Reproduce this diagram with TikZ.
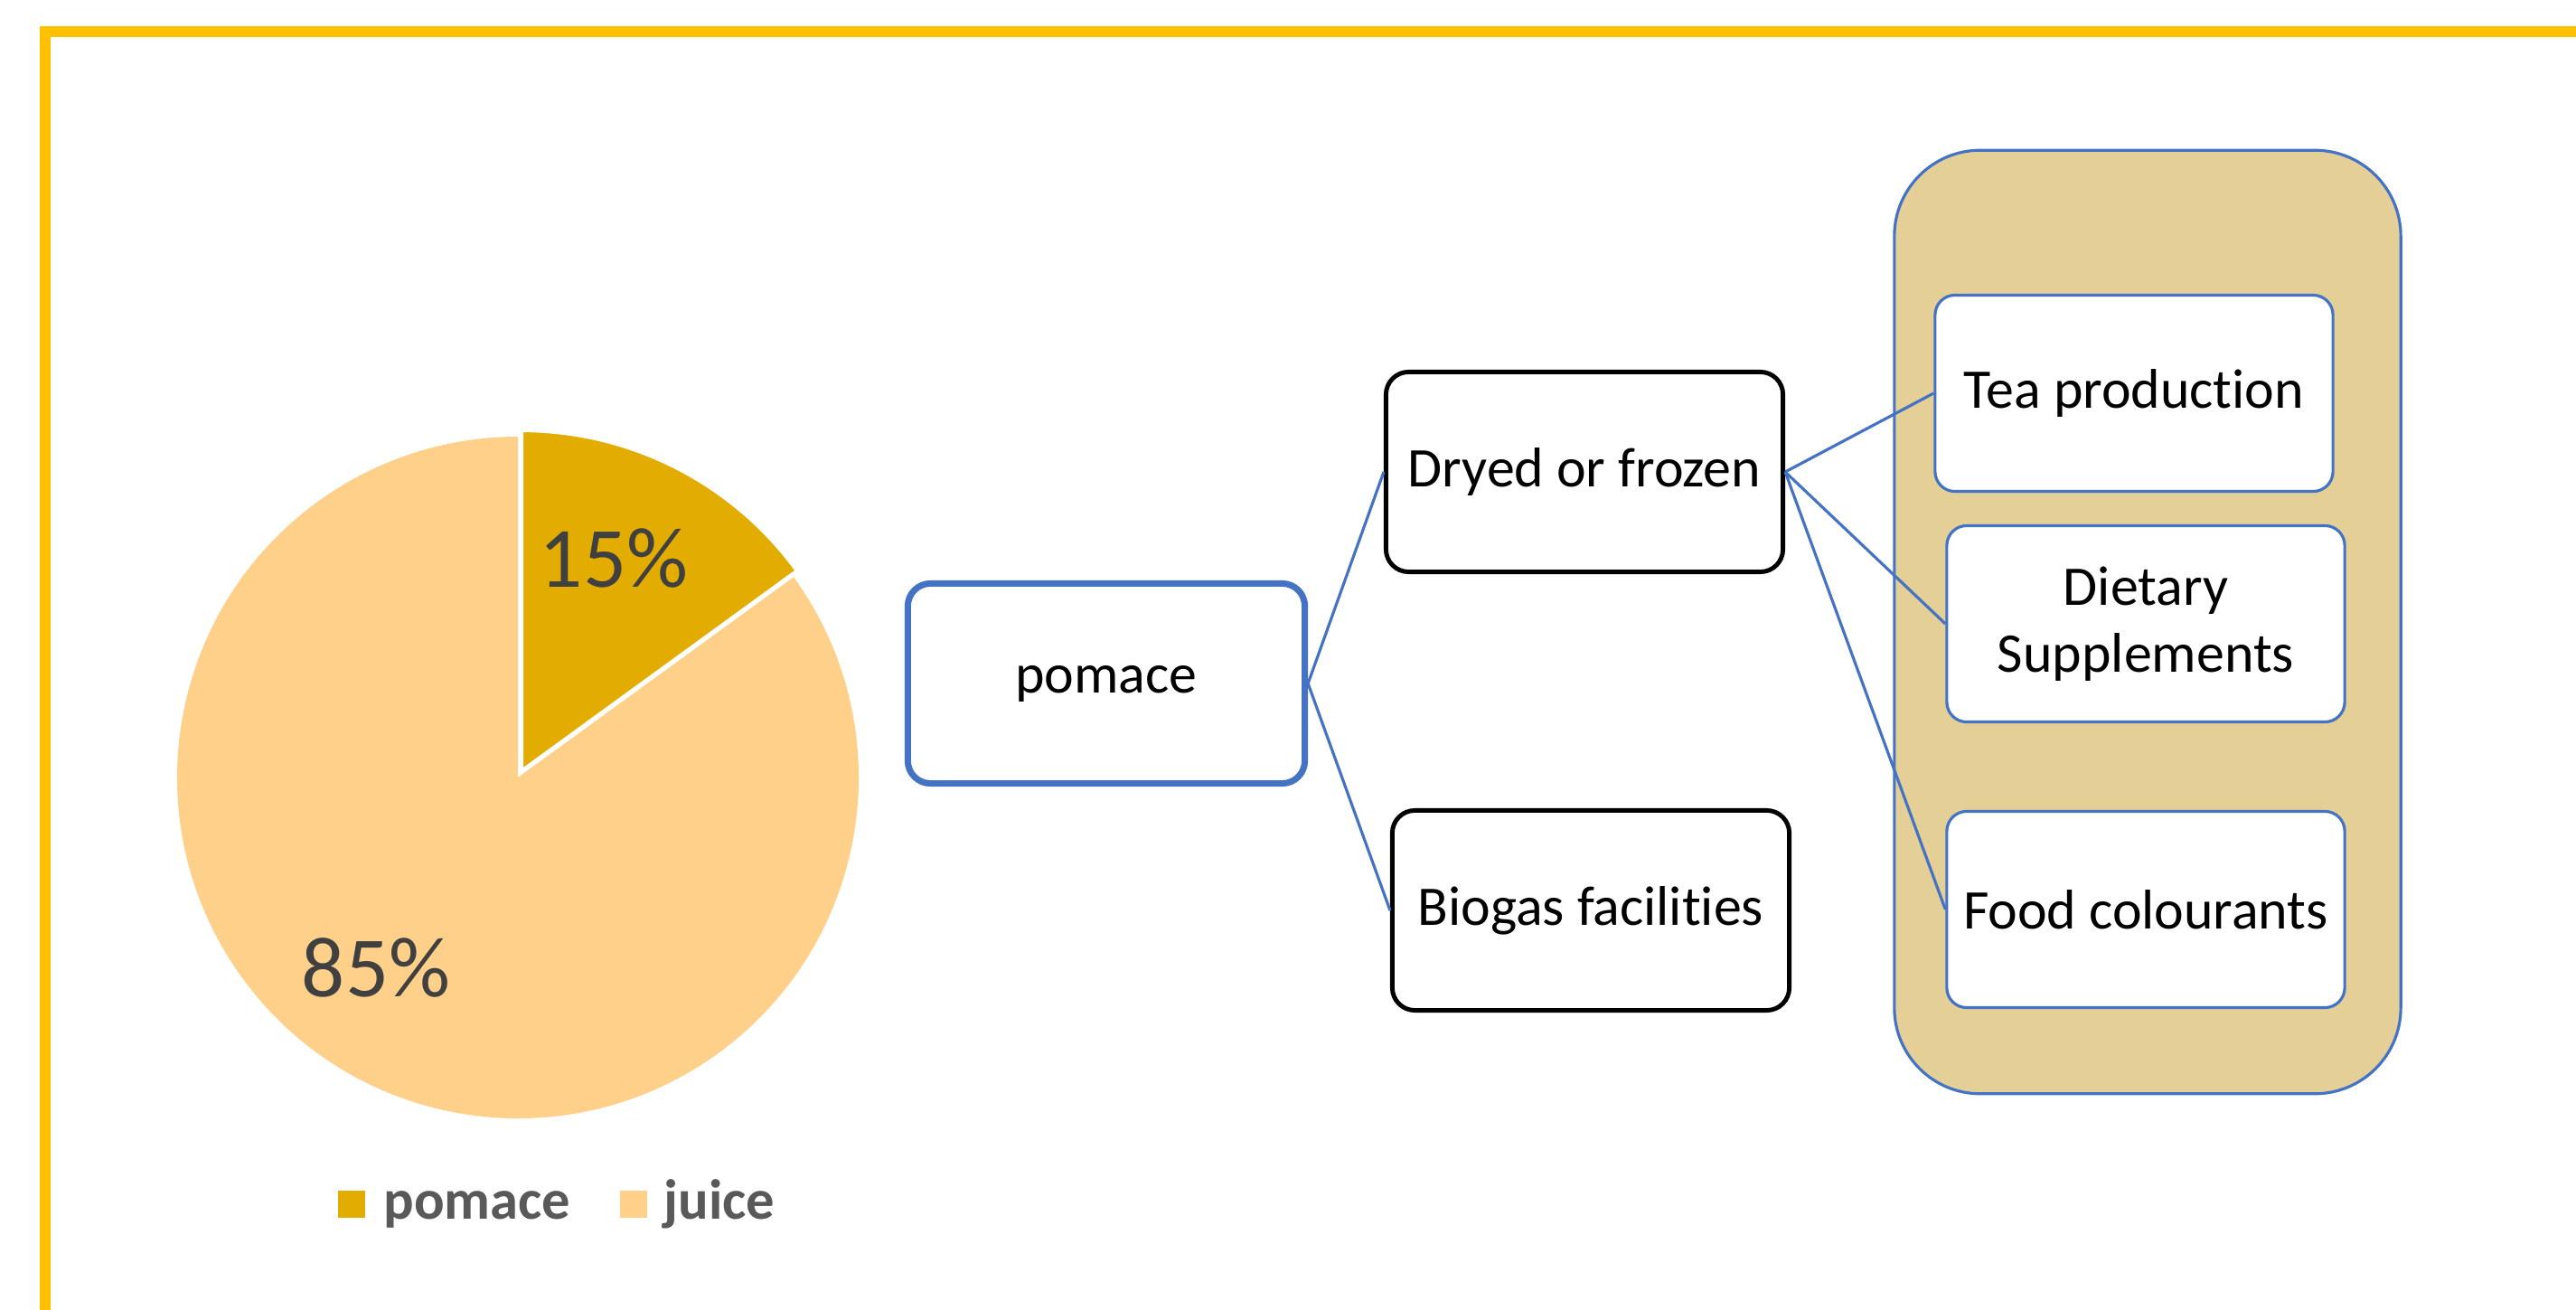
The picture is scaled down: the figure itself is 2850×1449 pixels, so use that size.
\documentclass[tikz,border=0pt]{standalone}
\usepackage{fontspec}
\setmainfont[RawFeature={-liga;-clig;-calt;-dlig}]{Carlito}
\usetikzlibrary{positioning}
\definecolor{frameyellow}{HTML}{FFC000}
\definecolor{pomacegold}{HTML}{E2AC00}
\definecolor{juicepeach}{HTML}{FFD08A}
\definecolor{boxblue}{HTML}{4472C4}
\definecolor{groupfill}{HTML}{E4D096}
\definecolor{labelgrey}{HTML}{404040}
\definecolor{legendgrey}{HTML}{595959}

\begin{document}
\begin{tikzpicture}[x=0.01cm, y=0.01cm,
  stage/.style={draw, line width=1.4pt, fill=white, rounded corners=0.25cm,
    minimum width=4.39cm, minimum height=2.21cm, inner sep=2pt,
    font=\fontsize{17.6}{21}\selectfont},
  outlet/.style={stage, draw=boxblue, line width=0.9pt, rounded corners=0.22cm,
    minimum width=4.4cm, minimum height=2.17cm},
  pct/.style={text=labelgrey, font=\fontsize{27}{32}\selectfont},
  legendkey/.style={minimum size=0.3cm, inner sep=0pt},
  legendtext/.style={anchor=base west, inner sep=0pt, text=legendgrey,
    font=\fontsize{17.8}{21}\selectfont\bfseries},
  link/.style={boxblue, line width=0.9pt}]
\useasboundingbox (0,0) rectangle (2850,-1449);
\draw[frameyellow, line width=0.12cm] (50,-1449) -- (50,-35) -- (2850,-35);

% pie chart
\fill[juicepeach] (573,-860) -- ++(36:377) arc[start angle=36, end angle=-270, radius=377] -- cycle;
\filldraw[fill=pomacegold, draw=white, line width=1.2pt] (577,-853) -- ++(90:377)
  arc[start angle=90, end angle=36, radius=377] -- cycle;
\node[pct] (pomacepct) at (679,-618) {15\%};
\node[pct] (juicepct) at (416,-1070) {85\%};

% legend
\node[legendkey, fill=pomacegold] (keypomace) at (389,-1332) {};
\node[legendtext] (legpomace) at (424,-1348) {pomace};
\node[legendkey, fill=juicepeach] (keyjuice) at (701,-1332) {};
\node[legendtext] (legjuice) at (734,-1348) {juice};

% flow
\node[stage, draw=boxblue, line width=2pt] (pomace) at (1224,-756) {pomace};
\node[stage] (dried) at (1753,-522) {Dryed or frozen};
\node[stage] (biogas) at (1760,-1007) {Biogas facilities};
\node[draw=boxblue, fill=groupfill, line width=0.9pt, rounded corners=0.95cm,
  minimum width=5.6cm, minimum height=10.43cm] (uses) at (2376,-688) {};
\node[outlet] (tea) at (2361,-435) {Tea production};
\node[outlet, align=center] (diet) at (2374,-690) {Dietary\\Supplements};
\node[outlet] (food) at (2374,-1006) {Food colourants};

\draw[link] (pomace.east) -- (dried.west);
\draw[link] (pomace.east) -- (biogas.west);
\foreach \n in {tea,diet,food}
  \draw[link] (dried.east) -- (\n.west);
\end{tikzpicture}
\end{document}
